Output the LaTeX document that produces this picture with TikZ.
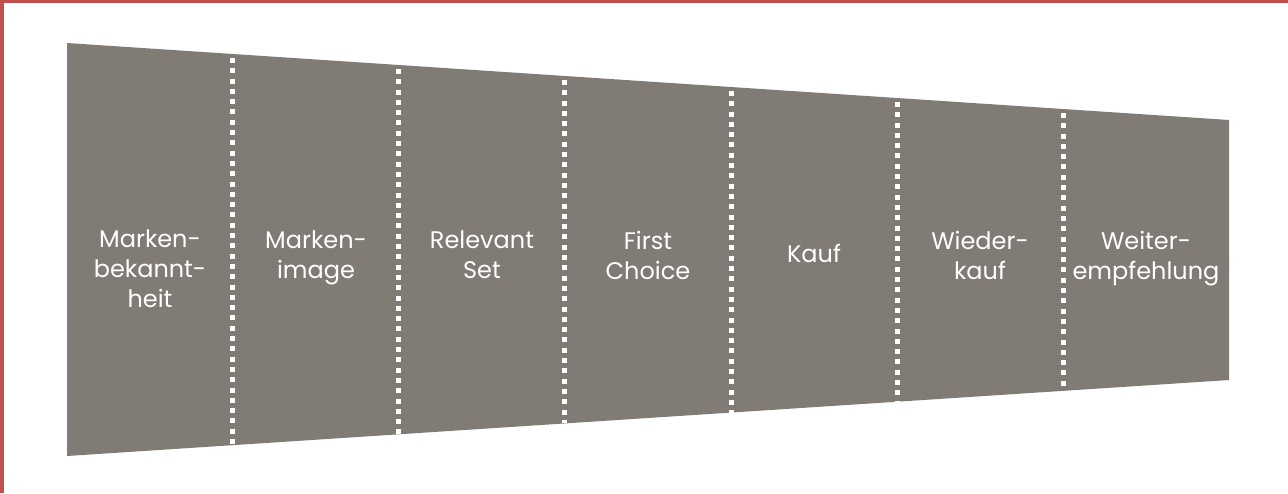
\documentclass[tikz,border=0pt]{standalone}
\usepackage{fontspec}
\setmainfont{Poppins}
\usetikzlibrary{calc}

\begin{document}
\begin{tikzpicture}[x=0.5pt,y=-0.5pt]
	\definecolor{framered}{RGB}{192,80,77}
	\definecolor{funnelgray}{RGB}{128,123,117}
	\tikzset{
		stage/.style={text=white,align=center,text depth=3pt,font=\fontsize{12}{15}\selectfont},
		divider/.style={white,line width=2.5pt,dash pattern=on 2.5pt off 2.65pt,dash phase=3.2pt}
	}
	
	\useasboundingbox (0,0) rectangle (1288,493);
	\fill[framered] (0,0) rectangle (1288,3);
	\fill[framered] (0,0) rectangle (4,493);
	
	% funnel outline
	\coordinate (tl) at (67,43);
	\coordinate (tr) at (1229,120);
	\coordinate (br) at (1229,380);
	\coordinate (bl) at (67,456);
	\fill[funnelgray] (tl) -- (tr) -- (br) -- (bl) -- cycle;
	
	\foreach \i in {1,...,6}
		\draw[divider] ($(tl)!\i/7!(tr)$) -- ($(bl)!\i/7!(br)$);
	
	\node[stage] (bekannt) at (150,272) {Marken-\\bekannt-\\heit};
	\node[stage] (image) at (316,258) {Marken-\\image};
	\node[stage] (relevant) at (482,258) {Relevant\\Set};
	\node[stage] (choice) at (648,258) {First\\Choice};
	\node[stage] (kauf) at (814,256) {Kauf};
	\node[stage] (wieder) at (980,258) {Wieder-\\kauf};
	\node[stage] (empf) at (1146,258) {Weiter-\\empfehlung};
\end{tikzpicture}
\end{document}
